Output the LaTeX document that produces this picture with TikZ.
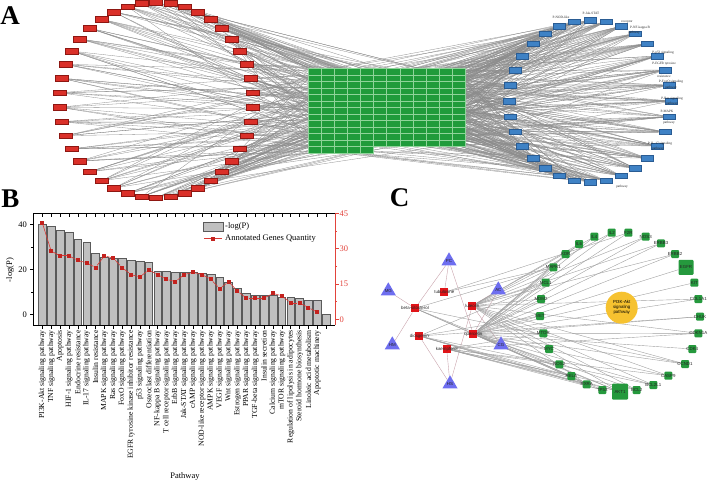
\documentclass[tikz,border=0pt]{standalone}
\usepackage{fontspec}
\setmainfont{Liberation Serif}
\newfontfamily\sansf{Liberation Sans}
\usetikzlibrary{shapes.geometric}
\pgfdeclarelayer{bg}
\pgfsetlayers{bg,main}
\definecolor{redA}{HTML}{DA3029}
\definecolor{redAd}{HTML}{8E1712}
\definecolor{blueA}{HTML}{3F82C5}
\definecolor{blueAd}{HTML}{2A5C93}
\definecolor{greenA}{HTML}{209B3B}
\definecolor{greenAl}{HTML}{8FD49A}
\definecolor{edgeA}{HTML}{8C8C8C}
\definecolor{barfill}{HTML}{C0C0C0}
\definecolor{bardraw}{HTML}{5A5A5A}
\definecolor{lineRed}{HTML}{D83A36}
\definecolor{markRed}{HTML}{C4221E}
\definecolor{axisRed}{HTML}{E2433B}
\definecolor{triBlue}{HTML}{6E6EF0}
\definecolor{cRed}{HTML}{E01418}
\definecolor{cGreen}{HTML}{25993D}
\definecolor{cYellow}{HTML}{F6C230}
\definecolor{cgray}{HTML}{A0A0A0}
\definecolor{cpink}{HTML}{C9A3AC}
\begin{document}
\begin{tikzpicture}[x=1pt,y=-1pt,
  rnodeA/.style={rectangle, fill=redA, draw=redAd, line width=0.4pt, minimum width=13pt, minimum height=5.6pt, inner sep=0pt},
  bnodeA/.style={rectangle, fill=blueA, draw=blueAd, line width=0.4pt, minimum width=12pt, minimum height=5.4pt, inner sep=0pt},
  gcell/.style={rectangle, fill=greenA, draw=greenAl, line width=0.35pt, minimum width=13.06pt, minimum height=6.53pt, inner sep=0pt},
  edgeAs/.style={draw=edgeA, line width=0.3pt},
  tinylab/.style={font=\fontsize{3.4}{3.7}\selectfont, inner sep=0pt, text=black!85},
  barB/.style={fill=barfill, draw=bardraw, line width=0.4pt},
  markB/.style={rectangle, fill=markRed, draw=none, minimum size=4pt, inner sep=0pt},
  lineB/.style={draw=lineRed, line width=0.6pt},
  pathlab/.style={rotate=90, anchor=east, font=\fontsize{7.7}{8}\selectfont, inner sep=0pt},
  tickfont/.style={font=\fontsize{8.5}{9}\selectfont, inner sep=0pt},
  panel/.style={font=\fontsize{27}{27}\selectfont\bfseries, inner sep=0pt},
  ctri/.style={regular polygon, regular polygon sides=3, fill=triBlue, draw=none, minimum size=17.5pt, inner sep=0pt},
  csq/.style={rectangle, fill=cRed, minimum size=8pt, inner sep=0pt},
  cg/.style={rectangle, rounded corners=1pt, fill=cGreen, inner sep=0pt},
  clab/.style={font=\sansf\fontsize{4.4}{5}\selectfont, inner sep=0pt, text=black!85},
  cedge/.style={draw=cgray, line width=0.4pt},
  cpinke/.style={draw=cpink, line width=0.4pt}]
\useasboundingbox (0,0) rectangle (708,482);

% ---------------- Panel A ----------------
\node[panel] (labA) at (10,16) {A};
\foreach \i in {1,...,42} {
  \pgfmathsetmacro{\ang}{90-(\i-1)*360/42}
  \node[rnodeA] (r\i) at ({156+97*cos(\ang)},{100-97.7*sin(\ang)}) {};
}
\foreach \i in {1,...,32} {
  \pgfmathsetmacro{\ang}{90-(\i-1)*360/32}
  \node[bnodeA] (b\i) at ({590+81*cos(\ang)},{101-81*sin(\ang)}) {};
}
\foreach \r in {0,...,11} {
  \foreach \c in {0,...,11} {
    \pgfmathtruncatemacro{\idx}{\r*12+\c+1}
    \node[gcell] (g\idx) at ({314.83+\c*13.06},{71.57+\r*6.53}) {};
  }
}
\foreach \c in {0,...,4} {
  \pgfmathtruncatemacro{\idx}{145+\c}
  \node[gcell] (g\idx) at ({314.83+\c*13.06},{71.57+12*6.53}) {};
}
\pgfmathsetseed{12}
\begin{pgfonlayer}{bg}
\foreach \i in {1,...,42} {
  \foreach \k in {1,...,6} {
    \pgfmathtruncatemacro{\j}{random(1,149)}
    \draw[edgeAs] (r\i) -- (g\j);
  }
}
\foreach \i in {1,...,32} {
  \foreach \k in {1,...,13} {
    \pgfmathtruncatemacro{\j}{random(1,149)}
    \draw[edgeAs] (g\j) -- (b\i);
  }
}
\end{pgfonlayer}
% blue node labels
\node[tinylab] (bl1) at (591,13) {P-Jak-STAT};
\node[tinylab] (bl2) at (561,17) {P-NOD-like};
\node[tinylab] (bl3) at (627,22) {receptor};
\node[tinylab] (bl4) at (640,28) {P-NF-kappa B};
\node[tinylab] (bl5) at (634,33) {pathway};
\node[tinylab] (bl6) at (663,53) {P-p53 signaling};
\node[tinylab] (bl7) at (664,64) {P-EGFR tyrosine};
\node[tinylab] (bl8) at (664,76) {resistance};
\node[tinylab] (bl9) at (671,82) {P-FoxO signaling};
\node[tinylab] (bl10) at (671,88) {pathway};
\node[tinylab] (bl11) at (672,99) {P-Ras signaling};
\node[tinylab] (bl12) at (672,104) {pathway};
\node[tinylab] (bl13) at (667,111) {P-MAPK};
\node[tinylab] (bl14) at (669,123) {pathway};
\node[tinylab] (bl15) at (660,144) {P-IL-17 signaling};
\node[tinylab] (bl16) at (658,149) {pathway};
\node[tinylab] (bl17) at (622,187) {pathway};

% ---------------- Panel B ----------------
\node[panel] (labB) at (10.5,198.5) {B};
\foreach \v [count=\i] in {40.1,39.2,37.5,36.4,33.6,32.0,27.0,25.3,24.9,24.9,24.1,23.4,23.2,19.2,19.1,18.8,18.5,18.9,18.2,17.9,16.6,14.4,11.8,9.3,8.6,8.6,8.6,7.7,7.4,7.1,6.1,6.1,0.2} {
  \pgfmathsetmacro{\xc}{42.3+(\i-1)*8.87}
  \pgfmathsetmacro{\yt}{314.3-2.25*\v}
  \draw[barB] ({\xc-3.9},325) rectangle ({\xc+3.9},\yt);
}
% frame
\draw[line width=0.5pt] (33,213) -- (335,213);
\draw[line width=0.5pt] (33,213) -- (33,325) -- (335,325);
\draw[draw=axisRed, line width=0.5pt] (335,213) -- (335,325);
\foreach \i in {1,...,33} {
  \pgfmathsetmacro{\xc}{42.3+(\i-1)*8.87}
  \draw[line width=0.4pt] (\xc,325) -- (\xc,328.5);
  \draw[line width=0.4pt] (\xc,213) -- (\xc,216.5);
}
\foreach \v in {0,20,40} {
  \draw[line width=0.5pt] (33,{314.3-2.25*\v}) -- (29.5,{314.3-2.25*\v});
  \node[tickfont, anchor=east] (lt\v) at (27,{314.3-2.25*\v}) {\v};
}
\foreach \v in {10,30} \draw[line width=0.5pt] (33,{314.3-2.25*\v}) -- (31.2,{314.3-2.25*\v});
\foreach \u in {0,15,30,45} {
  \draw[draw=axisRed, line width=0.5pt] (335,{319.3-2.353*\u}) -- (338.5,{319.3-2.353*\u});
  \node[tickfont, anchor=west, text=axisRed] (rt\u) at (339.5,{319.3-2.353*\u}) {\u};
}
\foreach \u in {7.5,22.5,37.5} \draw[draw=axisRed, line width=0.5pt] (335,{319.3-2.353*\u}) -- (336.8,{319.3-2.353*\u});
\node[tickfont, rotate=90] (ylab) at (10,270) {-log(P)};
\node[tickfont] (xlab) at (185,476) {Pathway};
% line with markers
\foreach \u [count=\i] in {41,29,27,27,25,24,22,27,26,22,19,18,21,19,17,16,19,20,19,17,13,16,12,9,9,9,11,10,7,7,5,3} {
  \node[markB] (pt\i) at ({42.3+(\i-1)*8.87},{319.3-2.353*\u}) {};
}
\foreach \i [evaluate=\i as \j using int(\i+1)] in {1,...,31} \draw[lineB] (pt\i) -- (pt\j);
% pathway labels
\foreach \lbl [count=\i] in {PI3K-Akt signaling pathway, TNF signaling pathway, Apoptosis, HIF-1 signaling pathway, Endocrine resistance, IL-17 signaling pathway, Insulin resistance, MAPK signaling pathway, Ras signaling pathway, FoxO signaling pathway, EGFR tyrosine kinase inhibitor resistance, p53 signaling pathway, Osteoclast differentiation, NF-kappa B signaling pathway, T cell receptor signaling pathway, ErbB signaling pathway, Jak-STAT signaling pathway, cAMP signaling pathway, NOD-like receptor signaling pathway, AMPK signaling pathway, VEGF signaling pathway, Wnt signaling pathway, Estrogen signaling pathway, PPAR signaling pathway, TGF-beta signaling pathway, Insulin secretion, Calcium signaling pathway, mTOR signaling pathway, Regulation of lipolysis in adipocytes, Steroid hormone biosynthesis, Linoleic acid metabolism, Apoptotic machinery} {
  \node[pathlab] (pl\i) at ({42.3+(\i-1)*8.87},330) {\lbl};
}
% legend
\node[barB, rectangle, minimum width=19.4pt, minimum height=9.3pt, inner sep=0pt] (legbox) at (213,226.4) {};
\node[tickfont, anchor=west] (legt1) at (225,226.4) {-log(P)};
\coordinate (legL) at (204,238.5);
\coordinate (legR) at (221.7,238.5);
\draw[lineB] (legL) -- (legR);
\node[markB] (legmk) at (213,238.5) {};
\node[tickfont, anchor=west] (legt2) at (225,238.5) {Annotated Genes Quantity};

% ---------------- Panel C ----------------
\node[panel] (labC) at (399.5,197.5) {C};
\node[circle, fill=cYellow, minimum size=32pt, inner sep=0pt, font=\sansf\fontsize{4.4}{5}\selectfont, align=center] (pi3k) at (621.7,307.7) {PI3K-Akt\\signaling\\pathway};
\foreach \x/\y/\s/\lbl [count=\i] in {579/244/8/IL6, 594.3/236.7/8/IL4, 611.7/232.7/8/IL2, 628.3/232.7/8/F2R, 645.7/236.7/8/NOS3, 661/243.3/8/ERBB3, 675/254/8/ERBB2, 686/267.3/15/EGFR, 694.3/282.7/8/KIT, 698.3/299/8/COL1A1, 700/316.7/8/CHUK, 698.3/333.3/8/CDKN1A, 692.3/349/8/CDK4, 685/364/8/CCND1, 668.3/375.7/8/CASP9, 653.3/385/8/BCL2L1, 636.7/390/8/BCL2, 620/391.7/16/AKT1, 602.3/390/8/TP53, 586.7/384.3/8/RXRA, 571.3/376/8/RELA, 559.3/364.3/8/NOS2, 549/349/8/MYC, 543.3/333.3/8/MTOR, 540/316/8/MET, 541/299/8/MDM2, 545.7/282.7/8/MCL1, 553.3/267.3/8/MAPK1, 565.7/254/8/KDR} {
  \node[cg, minimum size=\s pt, label={[clab]center:\lbl}] (cg\i) at (\x,\y) {};
}
\foreach \x/\y/\lbl [count=\i] in {444.3/292.3/tubulosine, 415/308.3/beta-sitosterol, 472.3/305.7/luteolin, 419.3/336/diosgenin, 473.3/334/quercetin, 446.7/349/kaempferol} {
  \node[csq, label={[clab]center:\lbl}] (cr\i) at (\x,\y) {};
}
\foreach \x/\y/\lbl [count=\i] in {449/261/PC, 388.3/291/MG, 498.3/290/AC, 392.3/345/HM, 501/345/CG, 450/384/HS} {
  \node[ctri, label={[clab]center:\lbl}] (ct\i) at (\x,\y) {};
}
\begin{pgfonlayer}{bg}
\foreach \a/\b in {1/1, 1/2, 1/5, 2/2, 4/2, 3/3, 3/5, 5/5, 5/3, 6/6, 6/3, 6/4} \draw[cpinke] (ct\a) -- (cr\b);
\foreach \j in {1,...,29} \draw[cedge] (cr5) -- (cg\j);
\foreach \j in {1,2,3,5,6,7,10,12,14,15,16,17,18,20,26,27,28} \draw[cedge] (cr3) -- (cg\j);
\foreach \j in {12,15,17,18,19,20,21,22,24} \draw[cedge] (cr6) -- (cg\j);
\foreach \j in {11,16,18,19,20,21,25,27} \draw[cedge] (cr4) -- (cg\j);
\foreach \j in {14,18,20,21,28} \draw[cedge] (cr2) -- (cg\j);
\foreach \j in {4,28} \draw[cedge] (cr1) -- (cg\j);
\end{pgfonlayer}
\end{tikzpicture}
\end{document}
